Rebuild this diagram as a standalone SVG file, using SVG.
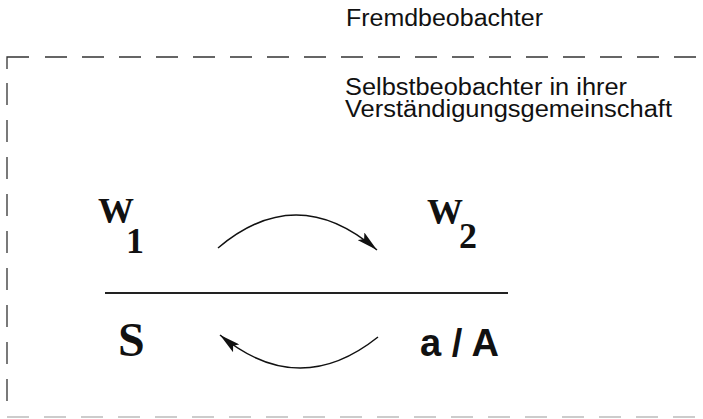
<svg xmlns="http://www.w3.org/2000/svg" width="703" height="419" viewBox="0 0 703 419">
<style>
.lbl{font-family:"Liberation Sans",Arial,sans-serif;font-size:23px;fill:#111}
.sym{font-family:"Liberation Serif","Times New Roman",serif;font-weight:bold;fill:#111}
.sans{font-family:"Liberation Sans",Arial,sans-serif;font-weight:bold;fill:#111}
.frame{fill:none;stroke:#333;stroke-width:1.3}
.dash{stroke-dasharray:22 15}
.arc{fill:none;stroke:#111;stroke-width:1.5;marker-end:url(#ah)}
</style>
<defs>
<marker id="ah" markerUnits="userSpaceOnUse" markerWidth="22" markerHeight="10" refX="21" refY="5" orient="auto">
<path d="M0,0 L21,5 L0,10 L4,5 z" fill="#111"/>
</marker>
</defs>
<rect width="703" height="419" fill="#fff"/>
<g id="frame">
<path class="frame" d="M7,69 V57 H29"/>
<line class="frame dash" x1="45" y1="57" x2="703" y2="57"/>
<line class="frame dash" x1="7" y1="83" x2="7" y2="410"/>
<line x1="7" y1="417" x2="703" y2="417" stroke="#ccc" stroke-width="2" class="dash"/>
</g>
<g id="fremd"><text class="lbl" x="346" y="26" textLength="197" lengthAdjust="spacingAndGlyphs">Fremdbeobachter</text></g>
<g id="selbst"><text class="lbl" x="345" y="95" textLength="282" lengthAdjust="spacingAndGlyphs">Selbstbeobachter in ihrer</text><text class="lbl" x="345" y="117" textLength="327" lengthAdjust="spacingAndGlyphs">Verständigungsgemeinschaft</text></g>
<g id="W1"><text class="sym" x="98" y="223" font-size="36">W<tspan x="126" y="253">1</tspan></text></g>
<g id="W2"><text class="sym" x="427" y="224" font-size="36">W<tspan x="459" y="248">2</tspan></text></g>
<g id="S"><text class="sym" x="118" y="356" font-size="48">S</text></g>
<g id="aA"><text class="sans" x="420" y="356" font-size="38" textLength="79" lengthAdjust="spacingAndGlyphs">a / A</text></g>
<line x1="105" y1="293" x2="508" y2="293" stroke="#222" stroke-width="2"/>
<g id="connectors">
<path class="arc" d="M218,248 Q297,181 377,250"/>
<path class="arc" d="M378,337 Q299,400 220,335"/>
</g>
</svg>
